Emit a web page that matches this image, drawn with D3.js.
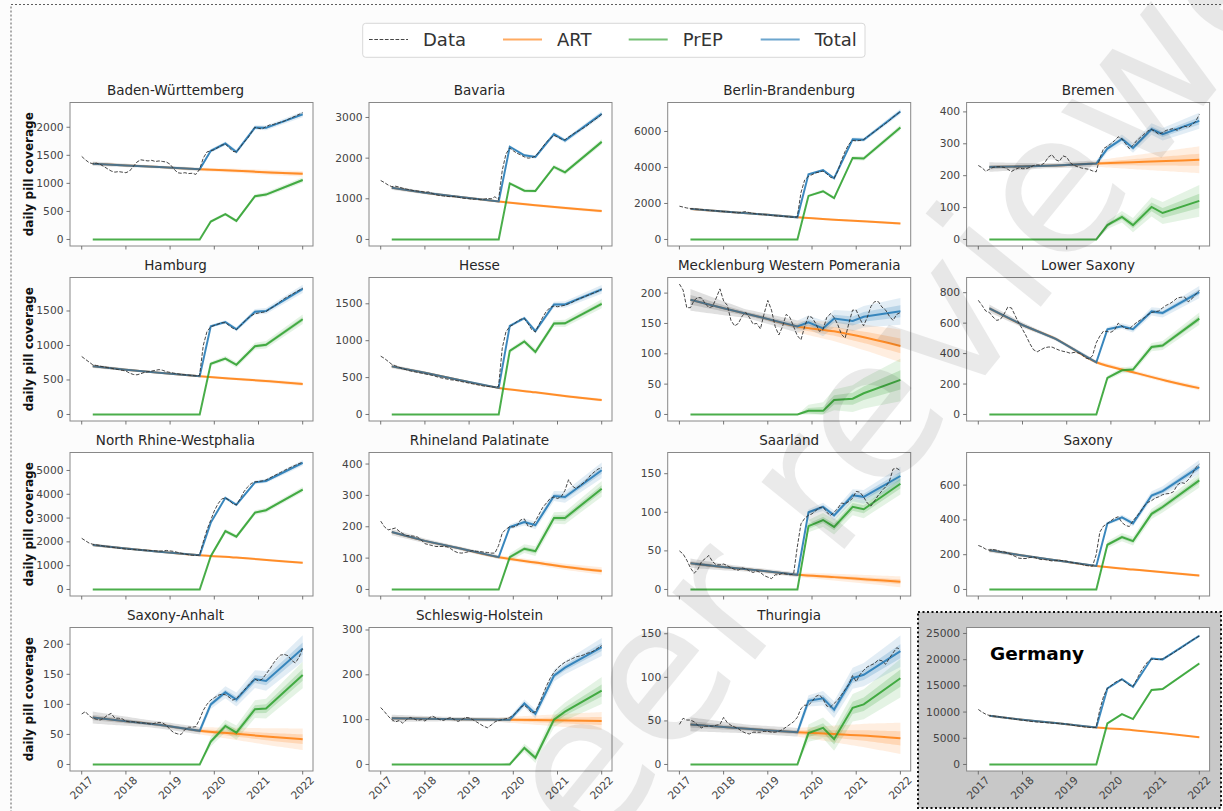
<!DOCTYPE html>
<html><head><meta charset="utf-8">
<script src="https://cdn.jsdelivr.net/npm/d3@7"></script>
<style>body{margin:0;background:#fcfcfc;} svg{display:block;font-family:"DejaVu Sans",sans-serif;}</style>
</head><body><svg id="c" width="1223" height="811"></svg>
<script>
const regions = ["Baden-Württemberg","Bavaria","Berlin-Brandenburg","Bremen","Hamburg","Hesse","Mecklenburg Western Pomerania","Lower Saxony","North Rhine-Westphalia","Rhineland Palatinate","Saarland","Saxony","Saxony-Anhalt","Schleswig-Holstein","Thuringia","Germany"];
const seriesNames = ["Data","ART","PrEP","Total"];
const yearTicks = [2017,2018,2019,2020,2021,2022];
const yTicks = [[0,500,1000,1500,2000],[0,1000,2000,3000],[0,2000,4000,6000],[0,100,200,300,400],[0,500,1000,1500],[0,500,1000,1500],[0,50,100,150,200],[0,200,400,600,800],[0,1000,2000,3000,4000,5000],[0,100,200,300,400],[0,50,100,150],[0,200,400,600],[0,50,100,150,200],[0,100,200,300],[0,50,100,150],[0,5000,10000,15000,20000,25000]];
const yHi = [2325,3208,7247,409,1891,1768,215,857,5481,416,169,750,217,291,149.7,24895];

const artT  = [2017.25,2018,2018.75,2019.67,2020.5,2021.25,2022];
const prepT = [2017.25,2019.67,2019.92,2020.25,2020.5,2020.92,2021.17,2022];
const totT  = [2017.25,2018,2018.75,2019.67,2019.92,2020.25,2020.5,2020.92,2021.17,2022];
const artBandT = [2017.25,2018.5,2019.67,2022];

const artVals = [[1350,1320,1290,1250,1225,1195,1170],[1270,1150,1050,935,840,765,700],[1700,1550,1420,1230,1100,1000,890],[227,229,232,238,242,246,250],[700,650,605,555,515,480,442],[652,565,470,360,300,245,195],[189,175,162,145,137,126,113],[697,588,497,343,278,222,173],[1870,1720,1590,1440,1340,1230,1120],[183,155,132,103,86,71,59],[34,29,25,19,16,13,10],[225,195,168,135,115,97,80],[78,72,66,56,51,46,42],[103,102,101,100,99,98,97],[46,43,40,37,35,33,30],[9300,8550,7900,7050,6550,5900,5200]];
const prepVals = [[0,0,320,450,330,770,800,1060],[0,0,1380,1200,1195,1785,1650,2400],[0,0,2420,2680,2300,4530,4500,6220],[0,0,45,71,45,102,83,121],[0,0,735,810,720,990,1010,1380],[0,0,862,990,848,1234,1235,1500],[0,0,6,6,24,26,35,57],[0,0,240,290,295,443,453,630],[0,0,1400,2450,2220,3230,3330,4200],[0,0,103,130,122,228,228,321],[0,0,82,90,81,107,104,137],[0,0,257,301,278,435,474,627],[0,0,38,64,53,92,93,149],[0,0,0,37,15,100,118,165],[0,0,36,42,29,65,69,99],[0,0,7830,9620,8660,14200,14390,19270]];
const totVals = [[1350,1320,1290,1250,1580,1710,1560,1995,1990,2230],[1270,1150,1050,935,2280,2070,2030,2590,2430,3090],[1700,1550,1420,1230,3620,3850,3400,5560,5540,7110],[227,229,232,238,285,315,287,346,330,372],[700,650,605,555,1280,1340,1235,1490,1500,1820],[652,565,470,360,1200,1305,1130,1490,1490,1695],[189,175,162,145,152,142,158,154,161,170],[697,588,497,343,559,580,560,677,667,804],[1870,1720,1590,1440,2810,3850,3560,4500,4560,5320],[183,155,132,103,199,215,205,298,295,380],[34,29,25,19,100,107,96,122,120,147],[225,195,168,135,380,415,380,540,565,705],[78,72,66,56,100,120,108,142,139,193],[103,102,101,100,100,136,113,198,216,262],[46,43,40,37,73,76,63,99,103,130],[9300,8550,7900,7050,14500,16280,14830,20230,20040,24560]];

// uncertainty half-widths (outer band)
const artBand = [[40,25,30,50],[50,30,30,40],[80,50,50,70],[15,8,10,42],[25,15,15,30],[25,15,15,20],[18,7,10,27],[25,12,12,15],[60,40,40,50],[10,6,6,12],[6,3,3,7],[12,6,6,8],[10,6,6,18],[8,5,5,20],[8,5,5,18],[150,100,100,150]];
const prepBand = [[25,50],[40,70],[80,150],[12,50],[30,70],[30,60],[10,35],[15,40],[80,120],[12,25],[8,14],[20,40],[8,22],[5,30],[10,22],[150,300]];
const totBand = [[30,50],[30,70],[50,150],[10,25],[15,60],[15,60],[10,22],[12,40],[40,120],[6,25],[3,12],[6,40],[6,22],[5,20],[5,18],[100,300]];

// monthly observed data, Jan 2017 .. Jan 2022
const dataVals = [
[1480,1420,1370,1350,1360,1340,1300,1260,1220,1200,1210,1200,1190,1220,1300,1380,1420,1410,1400,1410,1390,1400,1390,1380,1340,1260,1190,1180,1190,1175,1180,1160,1250,1450,1560,1580,1600,1640,1680,1700,1640,1570,1560,1640,1730,1800,1900,2000,1980,1970,2010,2040,2050,2070,2090,2110,2140,2170,2200,2230,2260],
[1450,1400,1340,1300,1310,1290,1260,1240,1220,1200,1190,1180,1160,1170,1130,1100,1080,1070,1060,1050,1060,1040,1020,1010,1000,990,1000,980,990,1010,1000,1050,980,1700,2100,2250,2180,2120,2080,2030,2000,2010,2050,2150,2280,2400,2480,2560,2520,2470,2450,2520,2580,2640,2680,2740,2800,2870,2940,3000,3080],
[1850,1800,1750,1720,1700,1680,1660,1640,1620,1600,1590,1570,1550,1540,1520,1500,1480,1520,1550,1490,1450,1420,1400,1380,1360,1340,1320,1300,1290,1270,1250,1240,1250,2600,3300,3500,3600,3700,3750,3800,3650,3450,3400,3800,4400,4900,5300,5500,5480,5500,5550,5700,5850,6000,6150,6300,6450,6600,6800,6950,7100],
[232,225,214,220,226,228,228,226,220,213,220,224,222,222,226,232,234,233,240,258,266,250,245,262,258,240,232,228,224,222,220,215,212,255,285,292,300,310,322,315,300,285,295,310,320,330,340,345,338,330,335,342,345,348,342,350,355,352,360,370,392],
[840,800,760,720,710,700,690,680,670,660,650,640,630,600,580,575,590,610,620,630,640,650,640,620,610,600,590,580,575,570,565,560,565,1000,1200,1270,1290,1310,1330,1330,1290,1250,1230,1280,1340,1390,1430,1460,1470,1480,1490,1530,1560,1600,1640,1680,1710,1740,1770,1800,1830],
[790,760,720,680,660,640,620,605,590,580,570,560,550,540,530,515,500,490,480,470,465,455,445,435,425,415,405,395,385,380,375,370,380,900,1120,1190,1220,1260,1290,1300,1230,1150,1120,1220,1320,1400,1450,1470,1460,1470,1480,1500,1520,1550,1570,1590,1610,1630,1650,1670,1700],
[215,205,176,176,188,193,192,183,176,178,192,207,187,180,155,146,150,162,168,160,149,150,141,166,188,172,145,131,145,165,160,145,130,123,145,162,160,150,137,140,160,166,160,148,132,126,150,172,172,158,146,160,178,186,186,177,172,162,155,165,168],
[750,717,680,670,640,618,625,660,705,700,650,600,560,515,465,425,412,425,438,443,443,432,422,415,410,402,408,405,398,372,365,385,470,515,548,545,540,555,600,580,565,562,585,605,620,635,655,670,675,680,700,717,728,745,765,770,772,740,760,790,815],
[2150,2050,1950,1900,1870,1850,1820,1800,1780,1760,1740,1720,1700,1690,1680,1670,1660,1650,1640,1630,1620,1610,1620,1640,1620,1600,1560,1520,1490,1460,1440,1430,1450,2000,2500,2900,3300,3600,3800,3850,3750,3600,3550,3800,4100,4300,4450,4520,4540,4560,4600,4680,4760,4840,4920,5000,5080,5150,5220,5290,5350],
[218,200,190,193,196,186,178,172,171,170,167,158,146,143,140,137,137,137,136,130,122,117,116,118,121,124,122,121,119,118,116,116,140,180,192,200,199,203,222,225,202,200,218,240,262,276,290,295,290,296,315,350,330,322,330,340,350,365,375,384,388],
[50,46,38,28,21,26,36,40,44,36,32,32,33,31,28,26,25,28,27,24,22,24,22,18,16,14,19,19,21,20,19,20,55,85,92,96,98,102,106,107,100,96,100,105,112,111,114,118,127,126,120,112,108,115,122,128,133,140,156,157,154],
[253,245,232,226,230,226,218,216,210,200,190,180,178,178,184,188,178,172,172,168,164,166,168,165,163,157,153,150,145,138,136,134,200,330,365,378,395,410,418,385,368,362,395,420,447,480,500,510,525,533,545,550,552,562,600,615,610,630,660,700,720],
[84,88,81,77,75,74,77,82,85,77,77,76,72,71,71,70,69,69,68,67,69,70,69,65,58,53,51,50,58,62,62,63,75,90,100,107,111,115,117,116,112,107,110,116,123,130,137,142,139,142,150,158,168,176,182,183,181,173,169,178,194],
[127,118,108,100,95,98,92,100,105,102,98,100,97,103,108,104,100,98,102,105,100,96,100,105,104,100,95,90,85,82,88,95,98,100,102,105,110,118,128,132,125,115,118,135,155,175,192,205,215,222,228,232,236,240,242,244,248,250,254,260,265],
[46,53,51,51,49,45,42,44,44,44,45,46,54,48,45,43,41,38,36,35,37,37,37,38,38,37,37,38,40,43,46,49,54,64,68,68,72,78,80,75,67,66,70,74,80,86,92,102,95,103,108,112,114,116,120,119,115,122,128,134,132],
[10500,10000,9600,9350,9250,9150,9050,8950,8850,8750,8650,8550,8450,8350,8250,8150,8100,8050,8000,7950,7900,7850,7800,7750,7700,7600,7450,7350,7250,7150,7100,7000,7100,10500,13000,14500,15000,15600,16000,16200,15700,15100,14900,16200,17600,18700,19600,20100,20050,20000,20150,20500,20900,21300,21800,22200,22700,23200,23700,24100,24500]
];
const dataT = d3.range(61).map(m => 2017 + m / 12);

// ---------- layout ----------
const svg = d3.select('#c');
const W = 243, H = 143.5;
const colLeft = [70, 369, 667.7, 966.6];
const rowTop = [102.5, 277.5, 452.5, 627.5];
const titleDx = [-16, -11, 0, 0];
const xDomain = [2016.735, 2022.233];
const C = {art:'#ff7f0e', prep:'#2ca02c', tot:'#1f77b4', grey:'#666666', data:'#333333'};
const grid = (a, b, n) => d3.range(n + 1).map(k => a + (b - a) * k / n);

svg.append('rect').attr('width',1223).attr('height',811).attr('fill','#fcfcfc');
svg.append('rect').attr('x',11).attr('y',4.5).attr('width',1240).attr('height',840)
  .attr('fill','none').attr('stroke','#333').attr('stroke-width',0.8).attr('stroke-dasharray','2,2');
svg.append('rect').attr('x',918).attr('y',612).attr('width',303).attr('height',196)
  .attr('fill','#c8c8c8').attr('stroke','#111').attr('stroke-width',2).attr('stroke-dasharray','2,2.5');

const defs = svg.append('defs');

regions.forEach((name, i) => {
  const col = i % 4, row = Math.floor(i / 4);
  const L = colLeft[col], T = rowTop[row];
  const x = d3.scaleLinear().domain(xDomain).range([L, L + W]);
  const hi = yHi[i];
  const y = d3.scaleLinear().domain([-0.05 * hi, 1.05 * hi]).range([T + H, T]);
  const g = svg.append('g');
  g.append('rect').attr('x',L).attr('y',T).attr('width',W).attr('height',H).attr('fill','#fff');
  const cid = 'cp' + i;
  defs.append('clipPath').attr('id',cid).append('rect').attr('x',L).attr('y',T).attr('width',W).attr('height',H);
  const p = g.append('g').attr('clip-path',`url(#${cid})`);

  const artS = d3.scaleLinear().domain(artT).range(artVals[i]);
  const totS = d3.scaleLinear().domain(totT).range(totVals[i]);
  const prepS = d3.scaleLinear().domain(prepT).range(prepVals[i]);
  const artW = d3.scaleLinear().domain(artBandT).range(artBand[i]);
  const totW = d3.scaleLinear().domain([2019.67, 2022]).range(totBand[i]);
  const prepW = d3.scaleLinear().domain([2019.67, 2019.92, 2022]).range([0, prepBand[i][0], prepBand[i][1]]);

  const area = (ts, vs, ws, f, lo) => d3.area().x(t => x(t))
      .y0(t => y(Math.max(lo, vs(t) - f * ws(t)))).y1(t => y(vs(t) + f * ws(t)))(ts);
  const postGrid = grid(2019.67, 2022, 40);
  const preGrid = grid(2017.25, 2019.67, 40);
  const levels = [[1, 0.13], [0.45, 0.2]];

  levels.forEach(([f, op]) => p.append('path').attr('d', area(postGrid, artS, artW, f, -1e9)).attr('fill', C.art).attr('opacity', op));
  levels.forEach(([f, op]) => p.append('path').attr('d', area(prepT.slice(1), prepS, prepW, f, 0)).attr('fill', C.prep).attr('opacity', op));
  levels.forEach(([f, op]) => p.append('path').attr('d', area(totT.slice(3), totS, totW, f, -1e9)).attr('fill', C.tot).attr('opacity', op));

  const mk = (vals, curve) => d3.line().x(t => x(t)).y((t, k) => y(vals[k])).curve(curve);
  p.append('path').attr('d', mk(artVals[i], d3.curveMonotoneX)(artT)).attr('fill','none').attr('stroke',C.art).attr('stroke-width',2).attr('opacity',0.85);
  p.append('path').attr('d', mk(prepVals[i], d3.curveLinear)(prepT)).attr('fill','none').attr('stroke',C.prep).attr('stroke-width',2).attr('opacity',0.85);
  p.append('path').attr('d', mk(totVals[i], d3.curveLinear)(totT)).attr('fill','none').attr('stroke',C.tot).attr('stroke-width',2).attr('opacity',0.85);

  [[1, 0.2], [0.45, 0.25]].forEach(([f, op]) => p.append('path').attr('d', area(preGrid, artS, artW, f, -1e9)).attr('fill', C.grey).attr('opacity', op));

  p.append('path').attr('d', mk(dataVals[i], d3.curveLinear)(dataT)).attr('fill','none')
    .attr('stroke',C.data).attr('stroke-width',1).attr('stroke-dasharray','3.7,1.6').attr('opacity',0.9);

  // frame
  g.append('rect').attr('x',L).attr('y',T).attr('width',W).attr('height',H).attr('fill','none').attr('stroke','#888').attr('stroke-width',1);

  // y axis
  yTicks[i].forEach(v => {
    g.append('line').attr('x1',L-3.5).attr('x2',L).attr('y1',y(v)).attr('y2',y(v)).attr('stroke','#666').attr('stroke-width',0.9);
    g.append('text').attr('x',L-6.5).attr('y',y(v)).attr('text-anchor','end').attr('dominant-baseline','central')
      .attr('font-size',10.7).attr('fill','#444').text(v);
  });
  // x axis
  yearTicks.forEach(yr => {
    g.append('line').attr('x1',x(yr)).attr('x2',x(yr)).attr('y1',T+H).attr('y2',T+H+3.5).attr('stroke','#666').attr('stroke-width',0.9);
    if (row === 3) {
      const cx = x(yr), cy = T + H + 17;
      g.append('text').attr('x',cx).attr('y',cy).attr('text-anchor','middle').attr('dominant-baseline','central')
        .attr('transform',`rotate(-45,${cx},${cy})`).attr('font-size',10.7).attr('fill','#444').text(yr);
    }
  });

  if (name === 'Germany') {
    g.append('text').attr('x',L+23.5).attr('y',T+32.5).attr('font-size',18.5).attr('font-weight','bold').attr('fill','#000').text(name);
  } else {
    g.append('text').attr('x',L+W/2+titleDx[col]).attr('y',T-7.5).attr('text-anchor','middle')
      .attr('font-size',13.5).attr('fill','#262626').text(name);
  }
  if (col === 0) {
    const cy = T + H / 2;
    g.append('text').attr('x',28.5).attr('y',cy).attr('text-anchor','middle').attr('dominant-baseline','central')
      .attr('transform',`rotate(-90,28.5,${cy})`).attr('font-size',12).attr('font-weight','bold').attr('fill','#111').text('daily pill coverage');
  }
});

// legend
const lg = svg.append('g');
lg.append('rect').attr('x',362.7).attr('y',23.3).attr('width',502.3).attr('height',34).attr('rx',3)
  .attr('fill','#fff').attr('stroke','#d8d8d8');
const legX = [369, 503, 628.7, 760.7];
const legStyle = [
  {c:C.data, dash:'3.7,1.6', w:1, op:0.9},
  {c:C.art, dash:null, w:2, op:0.65},
  {c:C.prep, dash:null, w:2, op:0.65},
  {c:C.tot, dash:null, w:2, op:0.65}];
seriesNames.forEach((s, k) => {
  const st = legStyle[k];
  lg.append('line').attr('x1',legX[k]).attr('x2',legX[k]+39).attr('y1',39.5).attr('y2',39.5)
    .attr('stroke',st.c).attr('stroke-width',st.w).attr('stroke-dasharray',st.dash).attr('opacity',st.op);
  lg.append('text').attr('x',legX[k]+54).attr('y',46).attr('font-size',18).attr('fill','#333').text(s);
});

// watermark
svg.append('text').attr('x',515).attr('y',956).attr('transform','rotate(-51,515,956)')
  .attr('font-size',195).attr('fill','#000').attr('opacity',0.08).text('peer reviewed');
</script></body></html>
